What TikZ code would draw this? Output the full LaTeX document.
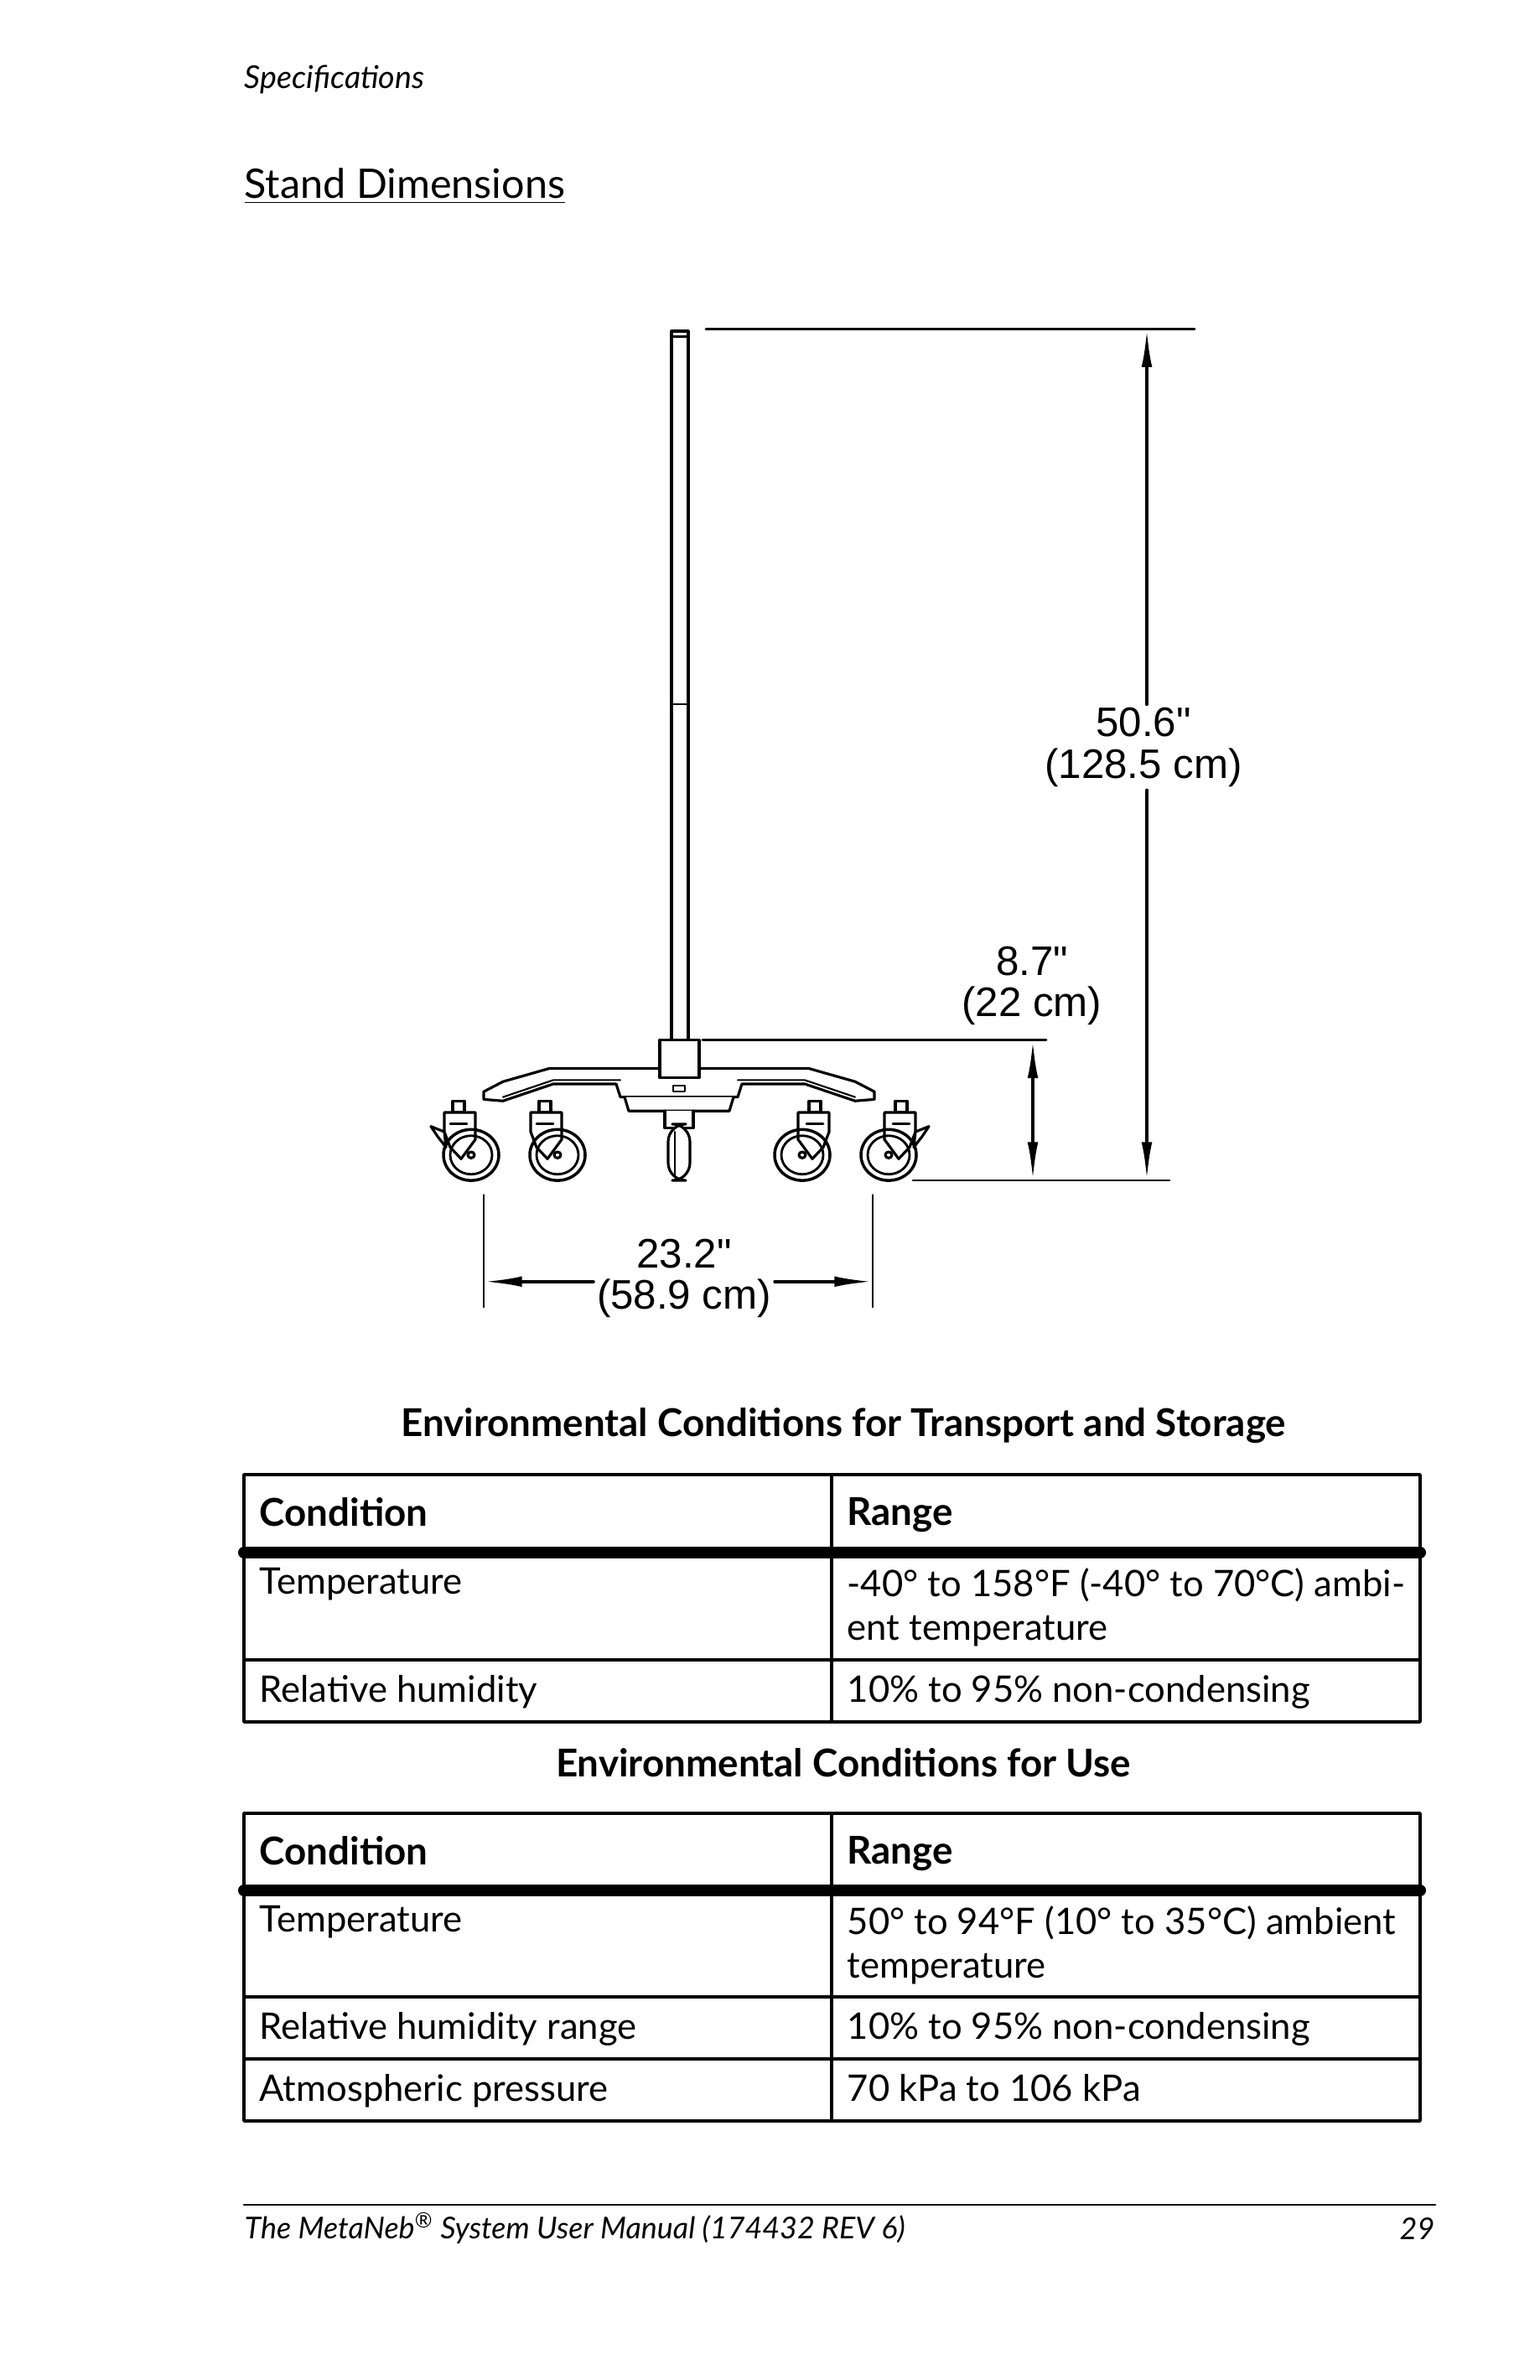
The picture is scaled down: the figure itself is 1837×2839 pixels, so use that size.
\documentclass[tikz,border=0pt]{standalone}
\usepackage{fontspec}
\setmainfont{Lato}
\newfontfamily\dimfont{Liberation Sans}
\usetikzlibrary{arrows.meta}
\begin{document}
\begin{tikzpicture}[x=0.01cm,y=-0.01cm,line cap=round,line join=round,
	dimline/.style={line width=1.1pt,{Latex[length=13pt,width=3.6pt]}-{Latex[length=13pt,width=3.6pt]}},
	extline/.style={line width=0.8pt},
	dimtext/.style={font=\dimfont\fontsize{14}{14}\selectfont,align=center,inner sep=1pt},
	part/.style={line width=0.9pt,fill=white},
	cell/.style={anchor=north west,font=\fontsize{12.4}{14.8}\selectfont,inner sep=0pt,align=left},
	headcell/.style={cell,font=\bfseries\fontsize{13}{14.8}\selectfont}]
	\useasboundingbox (0,0) rectangle (1837,2839);
	\node[anchor=west,inner sep=0pt,font=\itshape\fontsize{10.7}{12}\selectfont] (hdr) at (291,95) {Specifications};
	\node[anchor=west,inner sep=0pt,font=\fontsize{13.8}{16}\selectfont] (title) at (291,222) {\underline{Stand Dimensions}};

	\begin{scope}[shift={(0,-3.8)},yscale=0.921]
	% pole
	\draw[part] (801,433) rectangle (821,1351);
	\draw[line width=0.7pt] (801,916) -- (821,916);
	\draw[line width=0.7pt] (801,440) -- (821,440);
	% base
	\draw[part] (577,1418) -- (600,1405) -- (655,1388) -- (965,1388) -- (1020,1405) -- (1043,1418) -- (1043,1428) -- (1020,1430) -- (960,1408) -- (885,1408) -- (880,1425) -- (740,1425) -- (735,1408) -- (660,1408) -- (600,1430) -- (577,1428) -- cycle;
	\draw[line width=0.6pt] (600,1425) -- (660,1403) -- (740,1403);
	\draw[line width=0.6pt] (1020,1425) -- (960,1403) -- (880,1403);
	\draw[part] (745,1425) -- (750,1443) -- (870,1443) -- (875,1425);
	\draw[part] (787,1351) rectangle (834,1400);
	\draw[line width=0.6pt] (803,1410) rectangle (817,1418);
	% casters
	\foreach \cx/\fl in {562/1,665/1,957/-1,1060/-1}{
		\draw[part] (\cx-22*\fl,1430) rectangle (\cx-8*\fl,1445);
		\draw[part] (\cx-32*\fl,1445) -- (\cx+5*\fl,1445) -- (\cx+5*\fl,1480) -- (\cx-12*\fl,1505) -- (\cx-25*\fl,1490) -- (\cx-32*\fl,1470) -- cycle;
		\draw[line width=1pt] (\cx,1500) circle (33);
		\draw[line width=0.8pt] (\cx,1500) circle (25);
		\draw[part] (\cx,1500) circle (4);
		\draw[line width=0.8pt] (\cx-5*\fl,1460) -- (\cx-25*\fl,1460);
	}
	\foreach \cx/\fl in {562/1,1060/-1}{
		\draw[part] (\cx-32*\fl,1470) -- (\cx-48*\fl,1463) -- (\cx-40*\fl,1476) -- (\cx-30*\fl,1490) -- cycle;
	}
	\draw[part] (793,1443) -- (793,1465) -- (827,1465) -- (827,1443);
	\draw[part, rounded corners=6pt] (797,1460) rectangle (823,1533);
	\draw[line width=0.7pt] (805,1470) -- (805,1526);

	% dimensions
	\coordinate (polet) at (842,430);
	\coordinate (topr) at (1425,430);
	\coordinate (hubl) at (838,1351);
	\coordinate (hubr) at (1248,1351);
	\coordinate (flrl) at (1089,1533);
	\coordinate (flrr) at (1395,1533);
	\draw[extline] (polet) -- (topr);
	\draw[extline] (hubl) -- (hubr);
	\draw[extline] (flrl) -- (flrr);
	\node[dimtext] (hgt) at (1364,972) {50.6"\\(128.5 cm)};
	\draw[line width=1.1pt,{Latex[length=13pt,width=3.6pt]}-] (1368,430) -- (hgt.north -| 1368,0);
	\draw[line width=1.1pt,-{Latex[length=13pt,width=3.6pt]}] (hgt.south -| 1368,0) -- (1368,1533);
	\node[dimtext] (bas) at (1231,1281) {8.7"\\(22 cm)};
	\draw[dimline] (1232,1351) -- (1232,1533);
	\coordinate (wl) at (577,1552);
	\coordinate (wr) at (1041,1552);
	\draw[extline] (wl) -- ++(0,145);
	\draw[extline] (wr) -- ++(0,145);
	\node[dimtext] (wid) at (816,1660) {23.2"\\(58.9 cm)};
	\draw[line width=1.1pt,{Latex[length=13pt,width=3.6pt]}-] (577,1664) -- (wid.west |- 0,1664);
	\draw[line width=1.1pt,-{Latex[length=13pt,width=3.6pt]}] (wid.east |- 0,1664) -- (1041,1664);
	\end{scope}

	% table 1
	\node[font=\bfseries\fontsize{13}{14}\selectfont] (tt1) at (1006,1701) {Environmental Conditions for Transport and Storage};
	\draw[line width=1pt] (291,1759) rectangle (1694,2054);
	\draw[line width=1pt] (992,1759) -- (992,2054);
	\draw[line width=4pt] (291,1852) -- (1694,1852);
	\draw[line width=1pt] (291,1980) -- (1694,1980);
	\node[headcell] (c1) at (309,1786) {Condition};
	\node[headcell] (r1) at (1010,1786) {Range};
	\node[cell] (c2) at (309,1870) {Temperature};
	\node[cell] (r2) at (1010,1870) {-40° to 158°F (-40° to 70°C) ambi-\\ent temperature};
	\node[cell] (c3) at (309,1998) {Relative humidity};
	\node[cell] (r3) at (1010,1998) {10\% to 95\% non-condensing};

	% table 2
	\node[font=\bfseries\fontsize{13}{14}\selectfont] (tt2) at (1006,2103) {Environmental Conditions for Use};
	\draw[line width=1pt] (291,2163) rectangle (1694,2530);
	\draw[line width=1pt] (992,2163) -- (992,2530);
	\draw[line width=4pt] (291,2255) -- (1694,2255);
	\draw[line width=1pt] (291,2382) -- (1694,2382);
	\draw[line width=1pt] (291,2456) -- (1694,2456);
	\node[headcell] (d1) at (309,2190) {Condition};
	\node[headcell] (s1) at (1010,2190) {Range};
	\node[cell] (d2) at (309,2273) {Temperature};
	\node[cell] (s2) at (1010,2273) {50° to 94°F (10° to 35°C) ambient\\temperature};
	\node[cell] (d3) at (309,2400) {Relative humidity range};
	\node[cell] (s3) at (1010,2400) {10\% to 95\% non-condensing};
	\node[cell] (d4) at (309,2474) {Atmospheric pressure};
	\node[cell] (s4) at (1010,2474) {70 kPa to 106 kPa};

	% footer
	\draw[line width=0.8pt] (291,2630) -- (1712,2630);
	\node[anchor=west,inner sep=0pt,font=\itshape\fontsize{10.2}{12}\selectfont] (ftl) at (291,2658) {The MetaNeb\textsuperscript{®} System User Manual (174432 REV 6)};
	\node[anchor=east,inner sep=0pt,font=\itshape\fontsize{10.2}{12}\selectfont] (ftr) at (1712,2658) {29};
\end{tikzpicture}
\end{document}
